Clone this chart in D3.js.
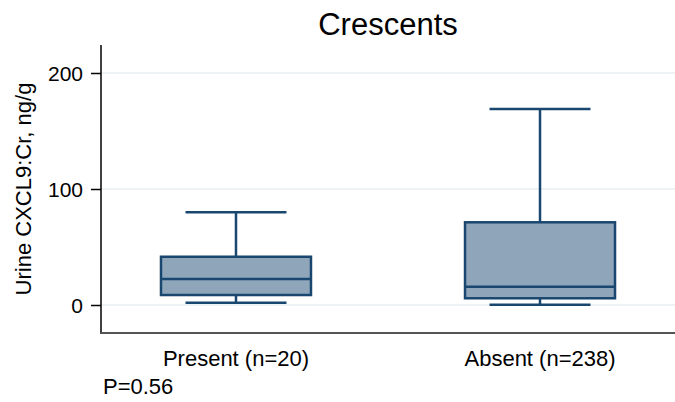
<!DOCTYPE html>
<html>
<head>
<meta charset="utf-8">
<script src="https://cdn.jsdelivr.net/npm/d3@7"></script>
<style>
  body { margin: 0; background: #fff; }
  text { font-family: "Liberation Sans", Arial, sans-serif; fill: #000; }
</style>
</head>
<body>
<svg id="chart" width="675" height="402"></svg>
<script>
// values
const groups  = ["Present (n=20)", "Absent (n=238)"];
const whiskLo = [2, 0.3];
const q1      = [8.6, 5.8];
const medians = [22.4, 15.8];
const q3      = [41.6, 71.3];
const whiskHi = [80, 169];
const yTicks  = [0, 100, 200];
const title   = "Crescents";
const yLabel  = "Urine CXCL9:Cr, ng/g";
const pNote   = "P=0.56";

const boxes = groups.map((g, i) => ({
  group: g, lo: whiskLo[i], q1: q1[i], med: medians[i], q3: q3[i], hi: whiskHi[i]
}));

const svg = d3.select("#chart");
const plot = { left: 101, right: 675, top: 45, bottom: 333 };

const y = d3.scaleLinear().domain([0, 200]).range([305, 73]);
const x = d3.scalePoint().domain(groups).range([plot.left, plot.right]).padding(0.444);

const boxW = 150, capW = 101;
const navy = "#1a476f", fill = "#8fa5ba";

// gridlines
svg.append("g")
  .selectAll("line")
  .data(yTicks)
  .join("line")
    .attr("x1", plot.left).attr("x2", plot.right)
    .attr("y1", d => y(d)).attr("y2", d => y(d))
    .attr("stroke", "#e7eef1")
    .attr("stroke-width", 1.5);

// y axis
const yAxis = svg.append("g")
  .attr("transform", `translate(${plot.left},0)`)
  .call(d3.axisLeft(y).tickValues(yTicks).tickSize(10).tickPadding(8));
yAxis.select(".domain").remove();
yAxis.selectAll(".tick line").attr("stroke", "#000").attr("stroke-width", 1.5);
yAxis.selectAll(".tick text").style("font-size", "21px").attr("dy", "0.36em");

svg.append("line")
  .attr("x1", plot.left).attr("x2", plot.left)
  .attr("y1", plot.top).attr("y2", plot.bottom + 1)
  .attr("stroke", "#000").attr("stroke-width", 1.5);

// bottom frame line
svg.append("line")
  .attr("x1", plot.left - 0.5).attr("x2", plot.right)
  .attr("y1", plot.bottom).attr("y2", plot.bottom)
  .attr("stroke", "#555").attr("stroke-width", 2);

// boxes
const b = svg.append("g").selectAll("g")
  .data(boxes)
  .join("g")
    .attr("transform", d => `translate(${x(d.group)},0)`);

b.append("line")
  .attr("x1", 0).attr("x2", 0)
  .attr("y1", d => y(d.hi)).attr("y2", d => y(d.q3))
  .attr("stroke", navy).attr("stroke-width", 2.5);
b.append("line")
  .attr("x1", 0).attr("x2", 0)
  .attr("y1", d => y(d.q1)).attr("y2", d => y(d.lo))
  .attr("stroke", navy).attr("stroke-width", 2.5);
b.append("line")
  .attr("x1", -capW / 2).attr("x2", capW / 2)
  .attr("y1", d => y(d.hi)).attr("y2", d => y(d.hi))
  .attr("stroke", navy).attr("stroke-width", 2.5);
b.append("line")
  .attr("x1", -capW / 2).attr("x2", capW / 2)
  .attr("y1", d => y(d.lo)).attr("y2", d => y(d.lo))
  .attr("stroke", navy).attr("stroke-width", 2.5);
b.append("rect")
  .attr("x", -boxW / 2).attr("width", boxW)
  .attr("y", d => y(d.q3))
  .attr("height", d => y(d.q1) - y(d.q3))
  .attr("fill", fill)
  .attr("stroke", navy).attr("stroke-width", 2.5);
b.append("line")
  .attr("x1", -boxW / 2).attr("x2", boxW / 2)
  .attr("y1", d => y(d.med)).attr("y2", d => y(d.med))
  .attr("stroke", navy).attr("stroke-width", 2.5);

// category labels
svg.append("g").selectAll("text")
  .data(groups)
  .join("text")
    .attr("x", d => x(d))
    .attr("y", 366)
    .attr("text-anchor", "middle")
    .style("font-size", "22px")
    .text(d => d);

// title
svg.append("text")
  .attr("x", 388).attr("y", 35)
  .attr("text-anchor", "middle")
  .style("font-size", "31px")
  .text(title);

// y label
svg.append("text")
  .attr("transform", `translate(31,${(plot.top + plot.bottom) / 2}) rotate(-90)`)
  .attr("text-anchor", "middle")
  .style("font-size", "22px")
  .text(yLabel);

// p value note
svg.append("text")
  .attr("x", 103).attr("y", 394)
  .style("font-size", "22px")
  .text(pNote);
</script>
</body>
</html>
